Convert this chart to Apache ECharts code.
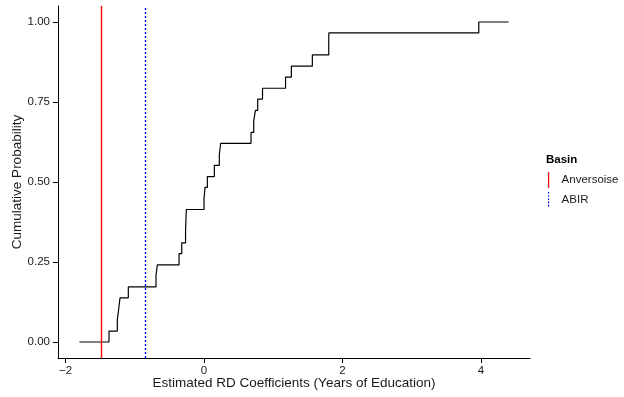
<!DOCTYPE html>
<html>
<head>
<meta charset="utf-8">
<script src="https://cdn.jsdelivr.net/npm/echarts@6/dist/echarts.min.js"></script>
<style>
  html, body { margin: 0; padding: 0; background: #fff; }
  #chart { width: 624px; height: 397px; }
</style>
</head>
<body>
<div id="chart"></div>
<script>
// ecdf steps (x where the step starts, level after it)
const ecdfX = [-1.80, -1.373, -1.253, -1.233, -1.214, -1.094, -0.694, -0.675, -0.361, -0.322,
  -0.267, -0.262, -0.256, 0.000, 0.014, 0.048, 0.149, 0.221, 0.241, 0.679,
  0.718, 0.742, 0.776, 0.845, 1.178, 1.262, 1.565, 1.802, 1.803, 3.970, 4.40];
const ecdfY = [0, 0.034, 0.069, 0.103, 0.138, 0.172, 0.207, 0.241, 0.276, 0.310,
  0.345, 0.379, 0.414, 0.448, 0.483, 0.517, 0.552, 0.586, 0.621, 0.655,
  0.690, 0.724, 0.759, 0.793, 0.828, 0.862, 0.897, 0.931, 0.966, 1.0, 1.0];

const basinNames = ["Anversoise", "ABIR"];
const basinValues = [-1.478, -0.848];
const basinColors = ["#ff0000", "#0000ff"];
const basinDash = ["solid", [2, 2]];

const xTicks = [-2, 0, 2, 4];
const yTicks = [0, 0.25, 0.5, 0.75, 1];

const font = "Liberation Sans";
const ink = "#1a1a1a";

let myChart = echarts.init(document.getElementById("chart"));

const icons = [
  "path://M0,0h1.2v16h-1.2z",
  "path://M0,0h1.2v1.6h-1.2zM0,3.2h1.2v1.6h-1.2zM0,6.4h1.2v1.6h-1.2zM0,9.6h1.2v1.6h-1.2zM0,12.8h1.2v1.6h-1.2zM0,16h1.2v0.01h-1.2z"
];

let option = {
  animation: false,
  backgroundColor: "#fff",
  textStyle: { fontFamily: font },
  title: {
    text: "Basin",
    left: 546,
    top: 154,
    padding: 0,
    textStyle: { fontFamily: font, fontSize: 11.5, fontWeight: "bold", color: "#000" },
  },
  legend: {
    orient: "vertical",
    left: 548,
    top: 172,
    padding: 0,
    itemWidth: 16,
    itemHeight: 16,
    itemGap: 4,
    symbolKeepAspect: true,
    textStyle: { fontFamily: font, fontSize: 11.5, color: ink },
    data: basinNames.map((n, i) => ({
      name: n,
      icon: icons[i],
      itemStyle: { color: basinColors[i] },
    })),
  },
  grid: { left: 58, right: 94, top: 6, bottom: 39, containLabel: false, outerBoundsMode: "none" },
  xAxis: {
    type: "value",
    min: -2.11,
    max: 4.71,
    name: "Estimated RD Coefficients (Years of Education)",
    nameLocation: "middle",
    nameGap: 18,
    nameMoveOverlap: false,
    nameTextStyle: { fontFamily: font, fontSize: 13.5, color: ink },
    splitLine: { show: false },
    axisLine: { onZero: false, lineStyle: { color: "#000", width: 1 } },
    axisTick: { customValues: xTicks, length: 5, lineStyle: { color: "#000" } },
    axisLabel: { customValues: xTicks, fontSize: 11.5, color: ink, margin: 7,
      formatter: (v) => (v < 0 ? "\u2212" + Math.abs(v) : String(v)) },
  },
  yAxis: {
    type: "value",
    min: -0.05,
    max: 1.05,
    name: "Cumulative Probability",
    nameLocation: "middle",
    nameGap: 34,
    nameMoveOverlap: false,
    nameTextStyle: { fontFamily: font, fontSize: 13.5, color: ink },
    splitLine: { show: false },
    axisLine: { show: true, onZero: false, lineStyle: { color: "#000", width: 1 } },
    axisTick: { show: true, customValues: yTicks, length: 5, lineStyle: { color: "#000" } },
    axisLabel: { customValues: yTicks, fontSize: 11.5, color: ink, margin: 8,
      formatter: (v) => v.toFixed(2) },
  },
  series: [
    {
      name: "ecdf",
      type: "line",
      step: "end",
      symbol: "none",
      lineStyle: { color: "#000", width: 1.2 },
      data: ecdfX.map((x, i) => [x, ecdfY[i]]),
    },
  ].concat(basinNames.map((n, i) => ({
    name: n,
    type: "line",
    data: [],
    color: basinColors[i],
    markLine: {
      silent: true,
      symbol: "none",
      label: { show: false },
      lineStyle: { color: basinColors[i], width: 1.4, type: basinDash[i], opacity: 1 },
      data: [{ xAxis: basinValues[i] }],
    },
  }))),
};
myChart.setOption(option);
</script>
</body>
</html>
